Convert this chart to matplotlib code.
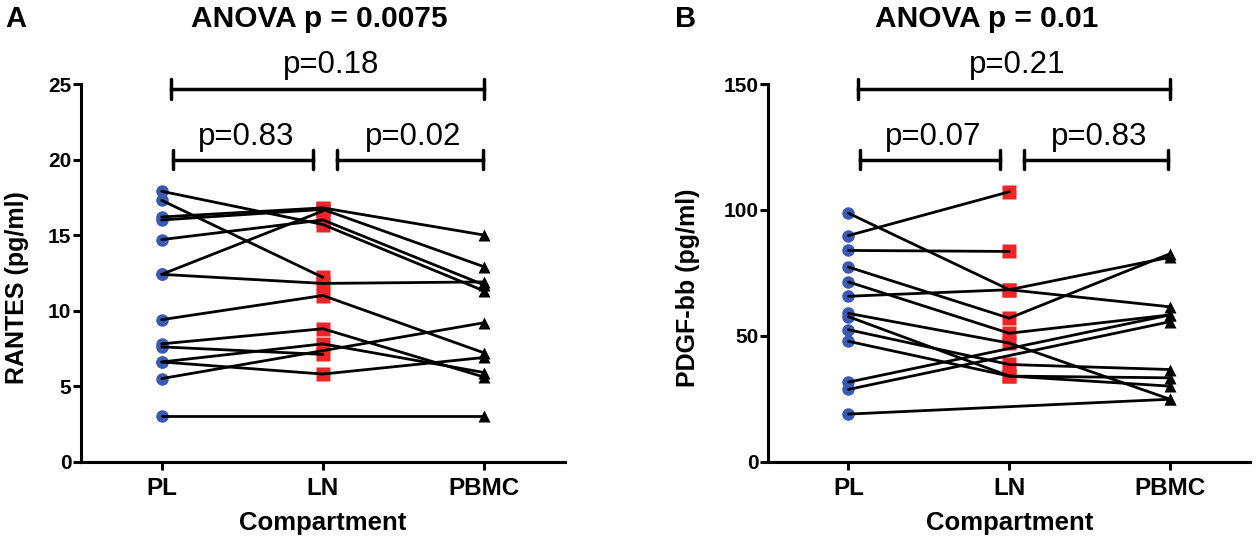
import numpy as np
import matplotlib
matplotlib.use("Agg")
import matplotlib.pyplot as plt

plt.rcParams['font.family'] = ['Liberation Sans', 'DejaVu Sans']

categories = ['PL', 'LN', 'PBMC']

# panel A - RANTES, one entry per subject (nan = no sample)
rantes_pl = [17.9, 17.3, 16.2, 16.0, 14.7, 12.4, 12.4, 9.4, 7.8, 7.6, 6.6, 6.6, 5.5, 3.0]
rantes_ln = [15.7, 12.2, 16.8, 16.7, 16.0, 16.6, 11.8, 11.0, 8.8, 7.1, 7.8, 5.8, np.nan, np.nan]
rantes_pbmc = [11.3, np.nan, 15.0, 12.9, 11.7, np.nan, 11.9, 7.2, 5.6, np.nan, 5.9, 6.9, 9.2, 3.0]

# panel B - PDGF-bb
pdgf_pl = [98.7, 89.8, 83.9, 77.3, 71.4, 65.7, 58.9, 57.6, 52.4, 47.8, 31.6, 28.7, 18.9]
pdgf_ln = [68.3, 107.2, 83.5, 57.0, 51.0, 68.3, 47.1, 34.0, 38.6, 34.0, np.nan, np.nan, np.nan]
pdgf_pbmc = [61.5, np.nan, np.nan, 82.6, 58.3, 81.2, 24.8, 33.3, 36.6, 30.0, 58.3, 55.6, 24.8]

pvals_a = ['p=0.18', 'p=0.83', 'p=0.02']
pvals_b = ['p=0.21', 'p=0.07', 'p=0.83']

blue = '#3a5ab4'
red = '#ec2527'


def draw_panel(ax, pl, ln, pbmc, ymax, yticks, ylabel, pvals, label_x):
    pl, ln, pbmc = np.array(pl), np.array(ln), np.array(pbmc)
    x = np.arange(3)
    ax.plot(np.zeros_like(pl), pl, 'o', color=blue, ms=9, mec='none', zorder=2, clip_on=False)
    ax.plot(np.ones_like(ln), ln, 's', color=red, ms=10, mec='none', zorder=2, clip_on=False)
    ax.plot(np.full_like(pbmc, 2), pbmc, '^', color='black', ms=9, mec='none', zorder=2, clip_on=False)
    for row in np.column_stack([pl, ln, pbmc]):
        ok = ~np.isnan(row)
        ax.plot(x[ok], row[ok], '-', color='black', lw=2.0, zorder=3, solid_capstyle='round')

    ax.set_xlim(-0.5, 2.5)
    ax.set_ylim(0, ymax)
    ax.set_yticks(yticks)
    ax.set_xticks(x)
    ax.set_xticklabels(categories)
    for s in ['top', 'right']:
        ax.spines[s].set_visible(False)
    for s in ['left', 'bottom']:
        ax.spines[s].set_linewidth(2.2)
    ax.tick_params(axis='both', width=2.2, length=6)
    ax.tick_params(axis='y', labelsize=15, pad=1)
    ax.tick_params(axis='x', labelsize=17.5, pad=5)
    for t in ax.get_xticklabels() + ax.get_yticklabels():
        t.set_fontweight('bold')
    ax.set_xlabel('Compartment', fontsize=18.5, fontweight='bold', labelpad=8)
    ax.set_ylabel(ylabel, fontsize=18, fontweight='bold')
    ax.yaxis.set_label_coords(label_x, 0.46)

    # comparison brackets
    tr = ax.get_xaxis_transform()
    spans = [(0.06, 2.0, 0.986, 1.029), (0.07, 0.94, 0.80, 0.838), (1.09, 1.99, 0.80, 0.838)]
    for (x0, x1, yb, yt), txt in zip(spans, pvals):
        ax.plot([x0, x1], [yb, yb], color='black', lw=2.5, transform=tr, clip_on=False)
        for xe in (x0, x1):
            ax.plot([xe, xe], [yb - 0.026, yb + 0.026], color='black', lw=2.5,
                    transform=tr, clip_on=False, solid_capstyle='round')
        ax.text((x0 + x1) / 2 + 0.02, yt, txt, transform=tr, ha='center', va='baseline',
                fontsize=22.5)


fig = plt.figure(figsize=(12.57, 5.42), dpi=100)
ax_a = fig.add_axes([0.0645, 0.1482, 0.3848, 0.6968])
ax_b = fig.add_axes([0.611, 0.1482, 0.3838, 0.6968])

draw_panel(ax_a, rantes_pl, rantes_ln, rantes_pbmc, 25, [0, 5, 10, 15, 20, 25],
           'RANTES (pg/ml)', pvals_a, -0.108)
draw_panel(ax_b, pdgf_pl, pdgf_ln, pdgf_pbmc, 150, [0, 50, 100, 150],
           'PDGF-bb (pg/ml)', pvals_b, -0.142)

fig.text(0.2538, 0.951, 'ANOVA p = 0.0075', ha='center', va='baseline', fontsize=21.5, fontweight='bold')
fig.text(0.7848, 0.951, 'ANOVA p = 0.01', ha='center', va='baseline', fontsize=21.5, fontweight='bold')
fig.text(0.004, 0.951, 'A', ha='left', va='baseline', fontsize=21, fontweight='bold')
fig.text(0.537, 0.951, 'B', ha='left', va='baseline', fontsize=21, fontweight='bold')

fig.savefig('out.png', dpi=100)
